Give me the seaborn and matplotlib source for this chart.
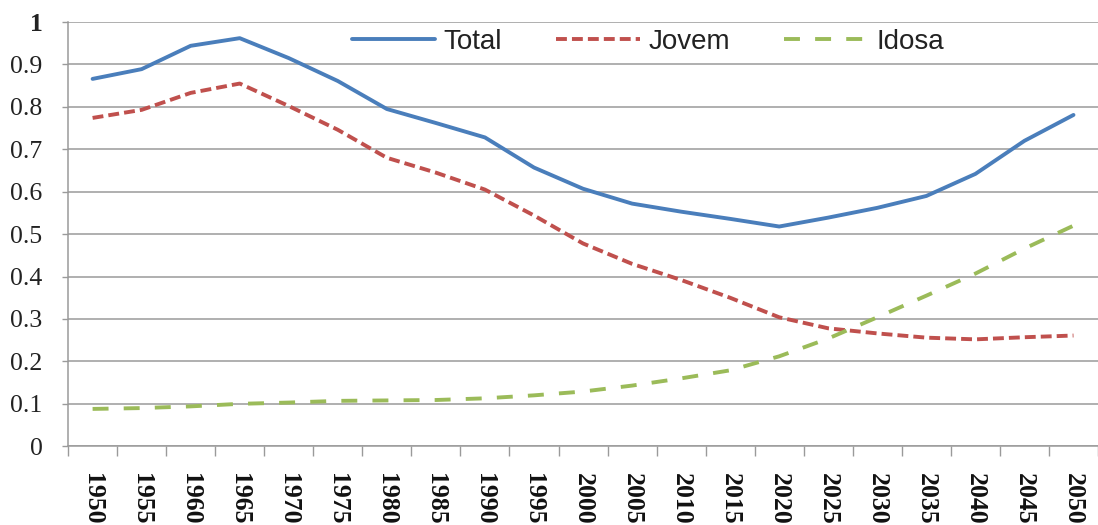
import matplotlib
matplotlib.use("Agg")
import matplotlib.pyplot as plt
import seaborn as sns
import pandas as pd
import numpy as np

# Razão de dependência (total, jovem, idosa), 1950-2050
years = [1950, 1955, 1960, 1965, 1970, 1975, 1980, 1985, 1990, 1995, 2000,
         2005, 2010, 2015, 2020, 2025, 2030, 2035, 2040, 2045, 2050]
total = [0.866, 0.889, 0.944, 0.962, 0.915, 0.861, 0.795, 0.762, 0.728, 0.657, 0.607,
         0.572, 0.553, 0.536, 0.518, 0.539, 0.562, 0.590, 0.642, 0.720, 0.781]
jovem = [0.774, 0.793, 0.833, 0.855, 0.802, 0.746, 0.680, 0.645, 0.605, 0.544, 0.478,
         0.430, 0.392, 0.350, 0.304, 0.278, 0.266, 0.256, 0.252, 0.257, 0.261]
idosa = [0.088, 0.090, 0.094, 0.100, 0.103, 0.107, 0.108, 0.109, 0.113, 0.120, 0.129,
         0.143, 0.160, 0.179, 0.212, 0.254, 0.304, 0.355, 0.407, 0.466, 0.520]
series_names = ["Total", "Jovem", "Idosa"]
y_ticks = [0, 0.1, 0.2, 0.3, 0.4, 0.5, 0.6, 0.7, 0.8, 0.9, 1]
y_labels = ["0", "0.1", "0.2", "0.3", "0.4", "0.5", "0.6", "0.7", "0.8", "0.9", "1"]

sns.set_theme(style="white")
plt.rcParams["font.family"] = ["Liberation Sans", "DejaVu Sans"]

pos = np.arange(len(years))
df = pd.DataFrame({"pos": np.tile(pos, 3),
                   "valor": total + jovem + idosa,
                   "serie": np.repeat(series_names, len(years))})

fig = plt.figure(figsize=(10.98, 5.25), dpi=100)
ax = fig.add_axes([0.062, 0.150, 0.938, 0.808])

palette = {"Total": "#4A7EBB", "Jovem": "#C0504D", "Idosa": "#9BBB59"}
dashes = {"Total": "", "Jovem": (2.8, 1.3), "Idosa": (4.1, 3.9)}
sns.lineplot(data=df, x="pos", y="valor", hue="serie", style="serie",
             palette=palette, dashes=dashes, linewidth=2.8, ax=ax,
             hue_order=series_names, style_order=series_names)

ax.set_xlim(-0.5, len(years) - 0.5)
ax.set_ylim(0, 1)
ax.set_xlabel("")
ax.set_ylabel("")

grid_c = "#9a9a9a"
ax.set_yticks(y_ticks)
ax.set_yticklabels(y_labels, family="Liberation Serif", fontsize=18.5, color="#222222")
ax.get_yticklabels()[-1].set_fontweight("bold")
ax.yaxis.grid(True, color=grid_c, linewidth=1.1)
ax.xaxis.grid(False)
ax.tick_params(axis="y", left=True, length=4.5, width=1, color=grid_c, pad=14)

# category labels at centres, tick marks between categories
ax.set_xticks(pos)
ax.set_xticklabels([str(y) for y in years], rotation=-90, family="Liberation Serif",
                   fontsize=18.5, fontweight="bold", color="#111111",
                   ha="center", va="top")
ax.set_xticks(np.arange(-0.5, len(years) + 0.5, 1), minor=True)
ax.tick_params(axis="x", which="major", bottom=True, length=0, pad=19)
ax.tick_params(axis="x", which="minor", bottom=True, length=7, width=1, color=grid_c)

for s in ["top", "right"]:
    ax.spines[s].set_visible(False)
for s in ["left", "bottom"]:
    ax.spines[s].set_color(grid_c)
    ax.spines[s].set_linewidth(1.1)

leg = ax.legend(loc="center", bbox_to_anchor=(0.563, 0.953), ncol=3, frameon=False,
                fontsize=20, handlelength=3.0, handletextpad=0.32, columnspacing=1.95,
                borderaxespad=0)
for t in leg.get_texts():
    t.set_color("#222222")
for h in leg.get_lines():
    h.set_linewidth(2.8)

fig.savefig("out.png", dpi=100)
